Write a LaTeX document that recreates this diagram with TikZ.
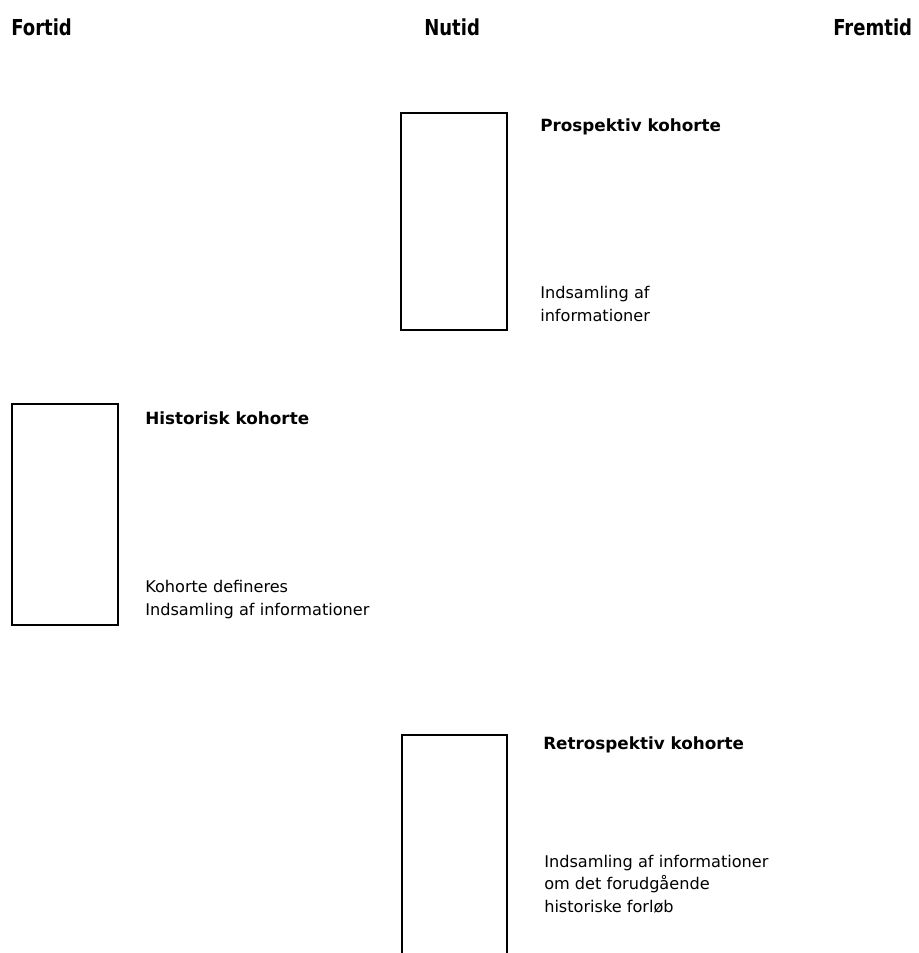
\documentclass[tikz,border=0pt]{standalone}
\usepackage{fontspec}
\setmainfont{DejaVu Sans}

\begin{document}
\begin{tikzpicture}[x=0.75pt,y=-0.75pt,
  hdr/.style={anchor=base west,inner sep=0,font=\bfseries\fontsize{16.5}{20}\selectfont},
  ttl/.style={anchor=base west,inner sep=0,font=\bfseries\fontsize{12.6}{15}\selectfont},
  lbl/.style={anchor=base west,inner sep=0,font=\fontsize{12.1}{14.5}\selectfont},
  cohort/.style={line width=1.5pt}]
\useasboundingbox (0,0) rectangle (918,953);

% Text Node
\node[hdr] (fortid) at (11,35) {\scalebox{0.82}[1]{Fortid}};
% Text Node
\node[hdr] (nutid) at (424,35) {\scalebox{0.82}[1]{Nutid}};
% Text Node
\node[hdr] (fremtid) at (833,35) {\scalebox{0.82}[1]{Fremtid}};

% Shape: Rectangle
\draw[cohort] (401,113) rectangle (507,330);
% Text Node
\node[ttl] (prosp) at (540,131) {Prospektiv kohorte};
% Text Node
\node[lbl] (prospA) at (540,298) {Indsamling af};
% Text Node
\node[lbl] (prospB) at (540,321) {informationer};

% Shape: Rectangle
\draw[cohort] (12,404) rectangle (118,625);
% Text Node
\node[ttl] (hist) at (145,424) {Historisk kohorte};
% Text Node
\node[lbl] (histA) at (145,592) {Kohorte defineres};
% Text Node
\node[lbl] (histB) at (145,615) {Indsamling af informationer};

% Shape: Rectangle (runs off the page)
\draw[cohort] (402,960) -- (402,735) -- (507,735) -- (507,960);
% Text Node
\node[ttl] (retro) at (543,749) {Retrospektiv kohorte};
% Text Node
\node[lbl] (retroA) at (544,867) {Indsamling af informationer};
% Text Node
\node[lbl] (retroB) at (544,889.5) {om det forudgående};
% Text Node
\node[lbl] (retroC) at (544,912) {historiske forløb};

\end{tikzpicture}
\end{document}
